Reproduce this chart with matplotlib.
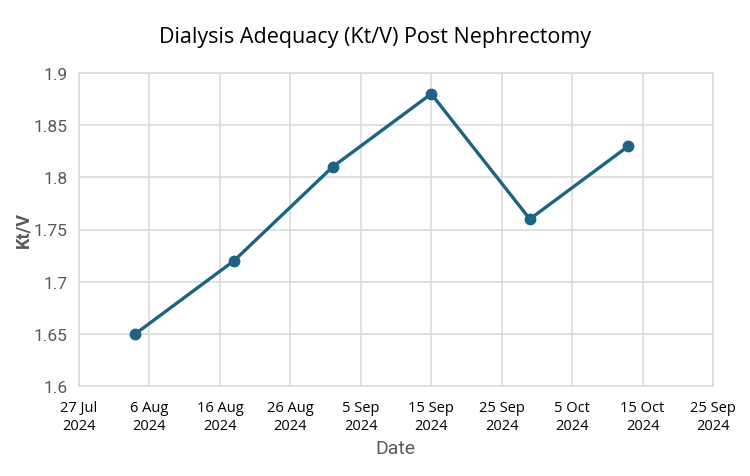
import matplotlib
matplotlib.use('Agg')
import matplotlib.pyplot as plt
import pandas as pd

# 数据
dates = pd.to_datetime(['2024-08-04', '2024-08-18', '2024-09-01',
                        '2024-09-15', '2024-09-29', '2024-10-13'])
ktv = [1.65, 1.72, 1.81, 1.88, 1.76, 1.83]

tick_dates = pd.date_range('2024-07-27', periods=10, freq='10D')
tick_labels = ['27 Jul\n2024', '6 Aug\n2024', '16 Aug\n2024', '26 Aug\n2024',
               '5 Sep\n2024', '15 Sep\n2024', '25 Sep\n2024', '5 Oct\n2024',
               '15 Oct\n2024', '25 Sep\n2024']
y_ticks = [1.6, 1.65, 1.7, 1.75, 1.8, 1.85, 1.9]
y_labels = ['1.6', '1.65', '1.7', '1.75', '1.8', '1.85', '1.9']

line_color = '#1c6481'
grid_color = '#dcdcdc'
gray_text = '#595959'
narrow = ['Roboto', 'DejaVu Sans']

fig = plt.figure(figsize=(7.5, 4.77), dpi=100)
ax = fig.add_axes([79 / 750, 1 - 387 / 477, (713 - 79) / 750, (387 - 74) / 477])

ax.plot(dates, ktv, color=line_color, linewidth=2.4, marker='o',
        markersize=7.5, markeredgecolor=line_color, zorder=3)

ax.set_xlim(tick_dates[0], tick_dates[-1])
ax.set_ylim(1.6, 1.9)
ax.set_xticks(tick_dates)
ax.set_xticklabels(tick_labels, fontsize=10.5, family=['Open Sans', 'DejaVu Sans'],
                   color='black', linespacing=1.3, multialignment='center')
ax.set_yticks(y_ticks)
ax.set_yticklabels(y_labels, fontsize=12.5, family=narrow, color=gray_text)
ax.tick_params(axis='x', length=0, pad=10)
ax.tick_params(axis='y', length=0, pad=8)

ax.grid(True, color=grid_color, linewidth=1.2)
ax.set_axisbelow(True)
for s in ax.spines.values():
    s.set_color(grid_color)
    s.set_linewidth(1.2)

fig.text(375 / 750, 1 - 38 / 477, 'Dialysis Adequacy (Kt/V) Post Nephrectomy',
         ha='center', va='center', fontsize=15.5, family=['Open Sans', 'DejaVu Sans'])
fig.text(395 / 750, 1 - 449 / 477, 'Date', ha='center', va='center',
         fontsize=14, family=narrow, color=gray_text)
fig.text(23 / 750, 1 - 230 / 477, 'Kt/V', ha='center', va='center', rotation=90,
         fontsize=13, family=narrow, color=gray_text, weight='bold')

plt.savefig('out.png', dpi=100)
plt.close()
